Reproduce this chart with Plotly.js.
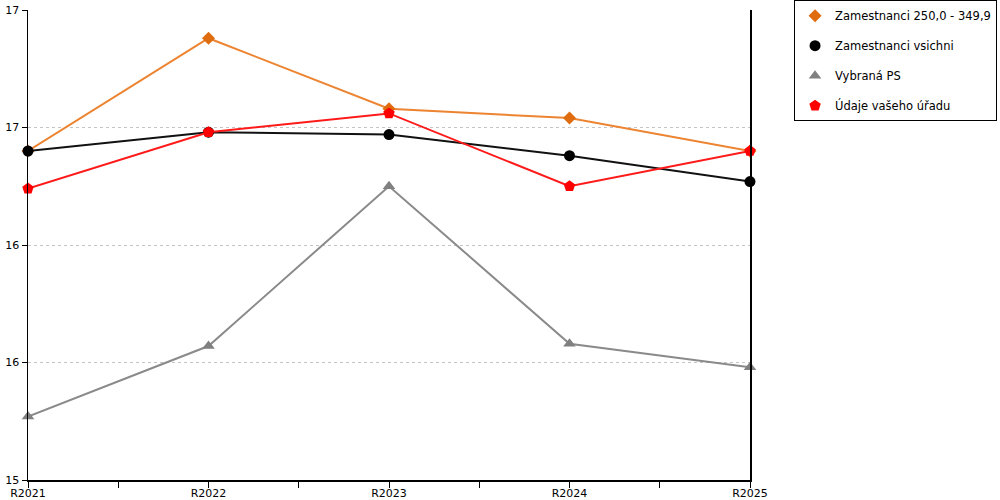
<!DOCTYPE html>
<html>
<head>
<meta charset="utf-8">
<script src="https://cdn.plot.ly/plotly-3.0.1.min.js"></script>
<style>
  html,body{margin:0;padding:0;background:#fff;}
  #chart{width:1000px;height:500px;}
</style>
</head>
<body>
<div id="chart"></div>
<script>
  // --------- Datos ---------
  const years = ['R2021','R2022','R2023','R2024','R2025'];

  const zam250   = [16.40, 16.88, 16.58, 16.54, 16.40];
  const zamAll   = [16.40, 16.48, 16.47, 16.38, 16.27];
  const vybranaPS= [15.27, 15.57, 16.25, 15.58, 15.48];
  const uradu    = [16.24, 16.48, 16.56, 16.25, 16.40];

  const names = ['Zamestnanci 250,0 - 349,9','Zamestnanci vsichni','Vybraná PS','Údaje vašeho úřadu'];

  // ticks: etiqueta en cada año, marca también a la mitad
  const xTickVals = [0,0.5,1,1.5,2,2.5,3,3.5,4];
  const xTickText = xTickVals.map(v => Number.isInteger(v) ? years[v] : '');

  const xi = years.map((_,i)=>i);
  const FONT = 'DejaVu Sans, Verdana, sans-serif';

  // una traza para la línea (sin leyenda) y otra con marcadores (con leyenda)
  function serie(name, y, color, lineColor, symbol, size, grp){
    return [
      { x: xi, y: y, name: name, type:'scatter', mode:'lines',
        legendgroup: grp, showlegend:false, hoverinfo:'skip',
        line:{color: lineColor, width:2} },
      { x: xi, y: y, name: name, type:'scatter', mode:'markers',
        legendgroup: grp, showlegend:true, cliponaxis:false,
        marker:{color: color, symbol: symbol, size: size, line:{width:0}} }
    ];
  }

  const traces = [
    ...serie(names[0], zam250,    '#E06C10', '#EC8431', 'diamond',     10, 'a'),
    ...serie(names[1], zamAll,    '#000000', '#111111', 'circle',      11, 'b'),
    ...serie(names[2], vybranaPS, '#808080', '#8a8a8a', 'triangle-up', 11, 'c'),
    ...serie(names[3], uradu,     '#FF0000', '#FF1A1A', 'pentagon',    12, 'd')
  ];

  const layout = {
    width:1000, height:500,
    margin:{l:28, r:250, t:10, b:20, autoexpand:false},
    paper_bgcolor:'#fff', plot_bgcolor:'#fff',
    font:{family:FONT, size:11, color:'#000'},
    showlegend:true,
    legend:{
      x:1.061, xanchor:'left', y:1.021, yanchor:'top',
      bordercolor:'#000', borderwidth:1, bgcolor:'#fff',
      font:{family:FONT, size:11.5, color:'#000'},
      tracegroupgap:11, traceorder:'grouped', itemwidth:30
    },
    xaxis:{
      range:[0,4], tickmode:'array', tickvals:xTickVals, ticktext:xTickText,
      ticks:'outside', ticklen:6, tickcolor:'#000', tickwidth:1,
      ticklabelstandoff:-4,
      showline:true, linecolor:'#000', linewidth:1.5,
      showgrid:false, zeroline:false, fixedrange:true
    },
    yaxis:{
      range:[15,17], dtick:0.5, tick0:15, tickformat:'.0f',
      ticks:'outside', ticklen:5, tickcolor:'#000', tickwidth:1,
      showline:true, linecolor:'#000', linewidth:1.5, mirror:true,
      showgrid:true, gridcolor:'#c4c4c4', griddash:'dot', gridwidth:1,
      zeroline:false, fixedrange:true
    }
  };

  Plotly.newPlot('chart', traces, layout, {displayModeBar:false, staticPlot:true});
</script>
</body>
</html>
